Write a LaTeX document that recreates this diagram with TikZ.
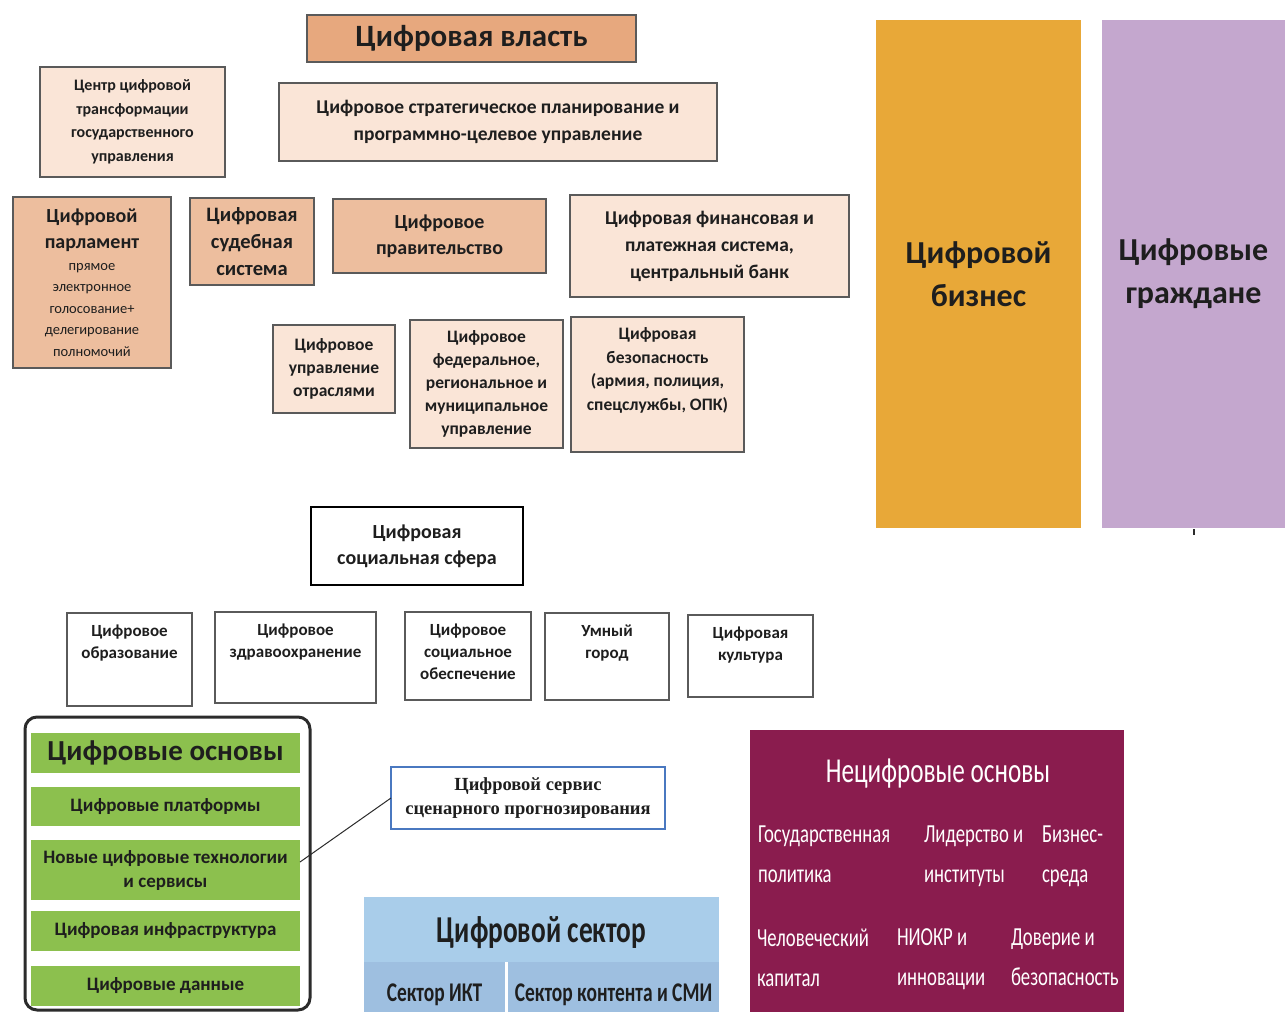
\documentclass[tikz,border=0pt]{standalone}
\usepackage{fontspec}
\setmainfont{Carlito}
\newfontfamily\condfont{Carlito}[FakeStretch=0.72]
\newfontfamily\servfont{Liberation Serif}
\usetikzlibrary{calc}
\definecolor{titlefill}{HTML}{E7A87E}
\definecolor{darkfill}{HTML}{EDBE9E}
\definecolor{lightfill}{HTML}{FAE5D7}
\definecolor{boxline}{HTML}{5A5A5A}
\definecolor{bizfill}{HTML}{E8A838}
\definecolor{citfill}{HTML}{C4A7CE}
\definecolor{greenfill}{HTML}{8CC04E}
\definecolor{maroon}{HTML}{8A1C4E}
\definecolor{secblue}{HTML}{A9CDEA}
\definecolor{secblueb}{HTML}{9EBFE0}
\definecolor{servblue}{HTML}{4A78C0}
\definecolor{txt}{HTML}{1E1E1E}
\definecolor{framec}{HTML}{2B2B2B}
\newcommand\fs[2]{\fontsize{#1}{#2}\selectfont}
\newcommand\bxn[7]{%
  \pgfmathsetmacro\bxw{#5-#3}\pgfmathsetmacro\bxh{#6-#4}%
  \node[#2,anchor=north west,minimum width={\bxw pt},minimum height={\bxh pt}] (#1) at (#3,#4) {#7};}
\tikzset{
  every node/.style={inner sep=0pt,outer sep=0pt,text=txt},
  pbox/.style={draw=boxline,line width=1.6pt,align=center},
  titlebox/.style={pbox,fill=titlefill,font=\bfseries\fs{31}{36}},
  darkbox/.style={pbox,fill=darkfill},
  lightbox/.style={pbox,fill=lightfill},
  socbox/.style={draw=boxline,line width=1.5pt,fill=white},
  soctxt/.style={align=center,font=\bfseries\fs{17}{22}},
  sidebox/.style={align=center,font=\bfseries\fs{32}{43}},
  greenbox/.style={fill=greenfill,align=center,font=\bfseries\fs{19}{24}},
  nontxt/.style={text=white,align=left,font=\condfont\fs{26}{40}},
  sectxt/.style={align=center,font=\condfont\bfseries\fs{27}{30},text=txt},
  link/.style={draw=framec,line width=1pt},
}
\begin{document}
\begin{tikzpicture}[x=1pt,y=-1pt]
\fill[white] (0,0) rectangle (1285,1012);
\useasboundingbox (0,0) rectangle (1285,1012);

% --- Digital power ---
\bxn{power}{titlebox}{307}{15}{636}{62}{Цифровая власть}
\bxn{centre}{lightbox,font=\bfseries\fs{16}{23.5}}{40}{67}{225}{177}{Центр цифровой\\трансформации\\государственного\\управления}
\bxn{strat}{lightbox,font=\bfseries\fs{19.5}{27}}{279}{83}{717}{161}{Цифровое стратегическое планирование и\\программно-целевое управление}
\bxn{parl}{darkbox,text width=150pt}{13}{197}{171}{368}{\bfseries\fs{20}{26}Цифровой\\парламент\par\mdseries\fs{14.5}{21.5}прямое\\электронное\\голосование+\\делегирование\\полномочий\par}
\bxn{court}{darkbox,font=\bfseries\fs{20.5}{27}}{190}{198}{314}{285}{Цифровая\\судебная\\система}
\bxn{gov}{darkbox,font=\bfseries\fs{20}{26}}{333}{199}{546}{273}{Цифровое\\правительство}
\bxn{fin}{lightbox,font=\bfseries\fs{19.5}{27}}{570}{195}{849}{297}{Цифровая финансовая и\\платежная система,\\центральный банк}
\bxn{sectors}{lightbox,font=\bfseries\fs{17.5}{23}}{273}{325}{395}{413}{Цифровое\\управление\\отраслями}
\bxn{fed}{lightbox,font=\bfseries\fs{17.5}{23}}{410}{320}{563}{448}{Цифровое\\федеральное,\\региональное и\\муниципальное\\управление}
\bxn{sec}{lightbox}{571}{317}{744}{452}{}
\node[anchor=north,align=center,font=\bfseries\fs{17.5}{23.5}] (sectext) at ([yshift=-11pt]sec.north) {Цифровая\\безопасность\\(армия, полиция,\\спецслужбы, ОПК)};

% --- business and citizens ---
\bxn{biz}{sidebox,fill=bizfill}{876}{20}{1081}{528}{Цифровой\\бизнес}
\bxn{cit}{sidebox,fill=citfill}{1102}{20}{1285}{528}{Цифровые\\граждане}
\draw[draw=framec,line width=1.5pt] (1194,529) -- (1194,535);

% --- social sphere ---
\bxn{social}{socbox,draw=black,align=center,font=\bfseries\fs{20}{26}}{311}{507}{523}{585}{Цифровая\\социальная сфера}
\bxn{edu}{socbox}{67}{613}{192}{706}{}
\bxn{health}{socbox}{215}{612}{376}{703}{}
\bxn{welfare}{socbox}{405}{612}{531}{700}{}
\bxn{city}{socbox}{545}{613}{669}{700}{}
\bxn{culture}{socbox}{688}{615}{813}{697}{}
\node[soctxt,anchor=north] (edut) at ([yshift=-12pt]edu.north) {Цифровое\\образование};
\node[soctxt,anchor=north] (healtht) at ([yshift=-12pt]health.north) {Цифровое\\здравоохранение};
\node[soctxt,anchor=north] (welfaret) at ([yshift=-12pt]welfare.north) {Цифровое\\социальное\\обеспечение};
\node[soctxt,anchor=north] (cityt) at ([yshift=-12pt]city.north) {Умный\\город};
\node[soctxt,anchor=north] (culturet) at ([yshift=-12pt]culture.north) {Цифровая\\культура};

% --- digital foundations ---
\bxn{frame}{draw=framec,line width=3pt,rounded corners=12pt}{25}{717}{310}{1010}{}
\bxn{found}{greenbox,font=\bfseries\fs{29}{34}}{31}{733}{300}{773}{Цифровые основы}
\bxn{platf}{greenbox}{31}{787}{300}{826}{Цифровые платформы}
\bxn{newtech}{greenbox}{31}{840}{300}{900}{Новые цифровые технологии\\и сервисы}
\bxn{infra}{greenbox}{31}{911}{300}{951}{Цифровая инфраструктура}
\bxn{data}{greenbox}{31}{966}{300}{1006}{Цифровые данные}

% --- scenario service ---
\bxn{serv}{draw=servblue,line width=1.5pt,fill=white,align=center,font=\servfont\bfseries\fs{18.5}{24}}{391}{767}{665}{829}{Цифровой сервис\\сценарного прогнозирования}
\draw[link] ([yshift=8pt]newtech.east) -- (serv.west);

% --- digital sector ---
\bxn{sector}{fill=secblue}{364}{897}{719}{962}{}
\node[sectxt,anchor=base,font=\condfont\bfseries\fs{38}{44}] (sectort) at ([yshift=-45pt]sector.north) {Цифровой сектор};
\bxn{ict}{fill=secblueb}{364}{962}{505}{1012}{}
\bxn{media}{fill=secblueb}{508}{962}{719}{1012}{}
\node[sectxt,anchor=base] (ictt) at ([yshift=-39pt]ict.north) {Сектор ИКТ};
\node[sectxt,anchor=base] (mediat) at ([yshift=-39pt]media.north) {Сектор контента и СМИ};

% --- non-digital foundations ---
\bxn{nondig}{fill=maroon}{750}{730}{1124}{1012}{}
\node[text=white,anchor=base,font=\condfont\fs{35}{40}] (nontitle) at (938,782) {Нецифровые основы};
\node[nontxt,anchor=north west] (pol) at (758,826) {Государственная\\политика};
\node[nontxt,anchor=north west] (lead) at (924,826) {Лидерство и\\институты};
\node[nontxt,anchor=north west] (bizenv) at (1042,826) {Бизнес-\\среда};
\node[nontxt,anchor=north west] (human) at (757,929) {Человеческий\\капитал};
\node[nontxt,anchor=north west] (rnd) at (897,929) {НИОКР и\\инновации};
\node[nontxt,anchor=north west] (trust) at (1011,929) {Доверие и\\безопасность};
\end{tikzpicture}
\end{document}
